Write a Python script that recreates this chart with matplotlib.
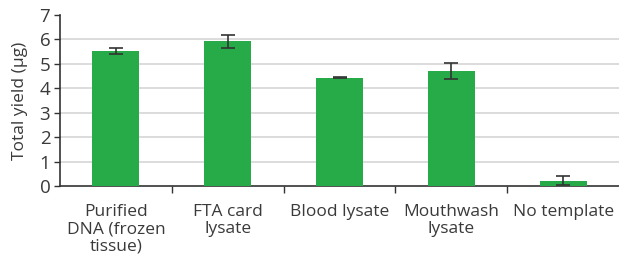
import matplotlib

matplotlib.use("Agg")
import matplotlib.pyplot as plt
import numpy as np

categories = ["Purified\nDNA (frozen\ntissue)", "FTA card\nlysate", "Blood lysate", "Mouthwash\nlysate", "No template"]
yields = [5.53, 5.92, 4.43, 4.70, 0.22]
errors = [0.13, 0.27, 0.02, 0.33, 0.17]
y_ticks = [0, 1, 2, 3, 4, 5, 6, 7]

plt.rcParams["font.family"] = ["Open Sans", "DejaVu Sans"]

fig = plt.figure(figsize=(6.19, 2.58), dpi=100)
ax = fig.add_axes([60 / 619, 72 / 258, 559 / 619, 171 / 258])

x = np.arange(len(categories))
ax.bar(x, yields, width=0.42, color="#27AB48", zorder=3)
ax.errorbar(x, yields, yerr=errors, fmt="none", ecolor="#333333", elinewidth=1.2,
            capsize=5, capthick=1.2, zorder=4)

ax.set_xlim(-0.5, len(categories) - 0.5)
ax.set_ylim(0, 7)
ax.set_yticks(y_ticks)
ax.set_yticklabels([str(t) for t in y_ticks], fontsize=13.5, color="#3a3a3a")
for t in y_ticks[1:-1]:
    ax.axhline(t, color="#d5d5d5", linewidth=1.2, zorder=1)

ax.set_xticks(x)
ax.set_xticklabels(categories, fontsize=12.5, color="#3a3a3a", linespacing=1.1,
                   multialignment="center")
ax.tick_params(axis="x", length=0, pad=13)
ax.set_xticks(x[:-1] + 0.5, minor=True)
ax.tick_params(axis="x", which="minor", length=5, width=1, color="#333333")
ax.tick_params(axis="y", length=4, width=1, color="#333333", pad=3)

ax.set_ylabel("Total yield (µg)", fontsize=12.5, color="#3a3a3a", labelpad=8)
for side in ["top", "right"]:
    ax.spines[side].set_visible(False)
ax.spines["left"].set_color("#333333")
ax.spines["bottom"].set_color("#333333")
ax.spines["left"].set_linewidth(1.2)
ax.spines["bottom"].set_linewidth(1.2)

fig.savefig("out.png", dpi=100)
